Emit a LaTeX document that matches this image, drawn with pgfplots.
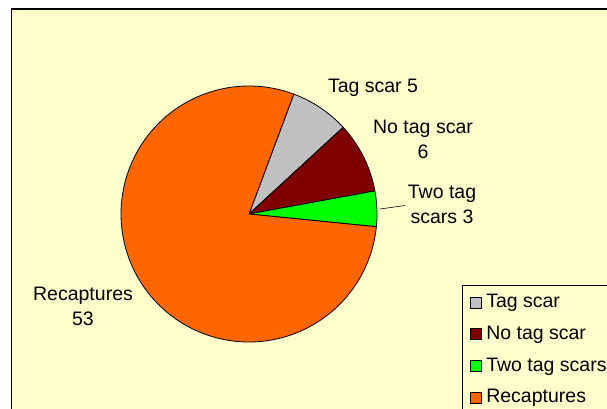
\documentclass[border=0pt]{standalone}
\usepackage{pgfplots}
\usepackage{pgfplotstable}
\pgfplotsset{compat=1.18}
\usepackage{fontspec}
\setmainfont{Liberation Sans}
\definecolor{bgyellow}{HTML}{FFFFCC}
\definecolor{cgray}{HTML}{C0C0C0}
\definecolor{cmaroon}{HTML}{800000}
\definecolor{cgreen}{HTML}{00FF00}
\definecolor{corange}{HTML}{FF6600}

\pgfplotstableread{
label value
TagScar 5
NoTagScar 6
TwoTagScars 3
Recaptures 53
}\piedata

\begin{document}
\begin{tikzpicture}
\useasboundingbox (0,0) rectangle (607pt,408pt);
\clip (0,0) rectangle (607pt,408pt);
\fill[white] (0,0) rectangle (607pt,408pt);
\pgfplotstablegetelem{0}{value}\of\piedata \let\vA\pgfplotsretval
\pgfplotstablegetelem{1}{value}\of\piedata \let\vB\pgfplotsretval
\pgfplotstablegetelem{2}{value}\of\piedata \let\vC\pgfplotsretval
\pgfplotstablegetelem{3}{value}\of\piedata \let\vD\pgfplotsretval
\pgfmathsetmacro\tot{\vA+\vB+\vC+\vD}
\pgfmathsetmacro\aA{69.5}
\pgfmathsetmacro\aB{\aA-360*(\vA/\tot)}
\pgfmathsetmacro\aC{\aB-360*(\vB/\tot)}
\pgfmathsetmacro\aD{\aC-360*(\vC/\tot)}
\pgfmathsetmacro\aE{\aD-360*(\vD/\tot)}
\def\cx{249}\def\cy{214}\def\rr{128}
\begin{axis}[
  at={(0,408pt)}, anchor=north west,
  scale only axis, width=607pt, height=408pt,
  xmin=0, xmax=607, ymin=0, ymax=408, y dir=reverse,
  hide axis, clip=false,
  legend style={at={(axis cs:462,285)}, anchor=north west, draw=black, line width=1pt,
    fill=bgyellow, font=\fontsize{19.5}{23}\selectfont, inner xsep=7pt, inner ysep=6pt,
    row sep=9.8pt, column sep=3pt,
    nodes={inner sep=2pt, text height=14pt, text depth=4pt},
    cells={anchor=west}},
  legend image code/.code={\draw[#1, draw=black, line width=0.8pt] (0pt,-5.5pt) rectangle (11pt,5.5pt);},
]
\draw[black, line width=1.3pt, fill=bgyellow] (axis cs:11.5,9) rectangle (axis cs:640,440);
\addplot[fill=cgray, draw=black, line width=0.8pt, domain=\aB:\aA, samples=40, variable=\t]
  ({\cx+\rr*cos(\t)},{\cy-\rr*sin(\t)}) -- (axis cs:\cx,\cy) -- cycle;
\addplot[fill=cmaroon, draw=black, line width=0.8pt, domain=\aC:\aB, samples=40, variable=\t]
  ({\cx+\rr*cos(\t)},{\cy-\rr*sin(\t)}) -- (axis cs:\cx,\cy) -- cycle;
\addplot[fill=cgreen, draw=black, line width=0.8pt, domain=\aD:\aC, samples=20, variable=\t]
  ({\cx+\rr*cos(\t)},{\cy-\rr*sin(\t)}) -- (axis cs:\cx,\cy) -- cycle;
\addplot[fill=corange, draw=black, line width=0.8pt, domain=\aE:\aD, samples=150, variable=\t]
  ({\cx+\rr*cos(\t)},{\cy-\rr*sin(\t)}) -- (axis cs:\cx,\cy) -- cycle;
\legend{Tag scar, No tag scar, Two tag scars, Recaptures}
\draw[black, line width=0.6pt] (axis cs:380,209) -- (axis cs:405,205.5);
\begin{scope}[every node/.style={font=\fontsize{19.5}{24.5}\selectfont, align=center, inner sep=0pt, anchor=base}]
\node at (axis cs:373,92.3) {Tag scar 5};
\node at (axis cs:423,158.3) {No tag scar\\6};
\node at (axis cs:442,223.3) {Two tag\\scars 3};
\node at (axis cs:83,325) {Recaptures\\53};
\end{scope}
\end{axis}
\end{tikzpicture}
\end{document}
